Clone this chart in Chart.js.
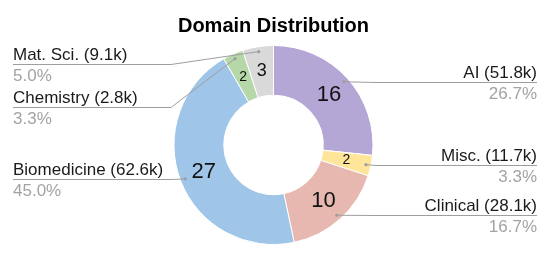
<!DOCTYPE html>
<html><head><meta charset="utf-8">
<script src="https://cdn.jsdelivr.net/npm/chart.js@4.4.1/dist/chart.umd.min.js"></script>
<style>html,body{margin:0;padding:0;background:#fff}canvas{display:block}</style>
</head><body>
<canvas id="c" width="547" height="258"></canvas>
<script>
/* donut: domain distribution */
const domains=['AI','Misc.','Clinical','Biomedicine','Chemistry','Mat. Sci.'];
const counts=[16,2,10,27,2,3];
const sizes=['51.8k','11.7k','28.1k','62.6k','2.8k','9.1k'];
const palette=['#b4a7d6','#ffe599','#e6b8af','#9fc5e8','#b6d7a8','#d9d9d9'];

const FONT='"Liberation Sans", Arial, sans-serif';
const total=counts.reduce((a,b)=>a+b,0);
const pct=v=>(v/total*100).toFixed(1)+'%';

/* numbers inside slices + leader lines with labels */
const callouts={id:'callouts',afterDatasetsDraw(chart){
  const ctx=chart.ctx, arcs=chart.getDatasetMeta(0).data;
  const left=[],right=[];
  arcs.forEach((a,i)=>{
    const p=a.getProps(['x','y','startAngle','endAngle','innerRadius','outerRadius'],true);
    const mid=(p.startAngle+p.endAngle)/2, R=p.outerRadius;
    const deg=(p.endAngle-p.startAngle)*180/Math.PI;
    const rm=(p.innerRadius+p.outerRadius)/2;
    // value in slice
    ctx.save();
    ctx.fillStyle='#111';ctx.textAlign='center';ctx.textBaseline='middle';
    ctx.font=Math.min(22,Math.max(14,deg))+'px '+FONT;
    ctx.fillText(counts[i],p.x+Math.cos(mid)*rm,p.y+Math.sin(mid)*rm);
    ctx.restore();
    const it={i,cx:p.x,R,ax:p.x+Math.cos(mid)*R*0.95,ay:p.y+Math.sin(mid)*R*0.95};
    (Math.cos(mid)>=0?right:left).push(it);
  });
  const minY=chart.chartArea.top+19, gap=43;
  for(const side of [left,right]){
    side.sort((a,b)=>a.ay-b.ay);
    let prev=-1e9;
    for(const it of side){it.ly=Math.max(it.ay,prev+gap,minY);prev=it.ly;}
  }
  ctx.save();
  ctx.strokeStyle='#9e9e9e';ctx.fillStyle='#9e9e9e';ctx.lineWidth=1;
  const L=13,Rx=537;
  for(const it of left){
    const y=Math.round(it.ly)+0.5, ex=Math.min(it.ax,it.cx-it.R-3);
    ctx.beginPath();ctx.moveTo(L,y);ctx.lineTo(ex,y);ctx.lineTo(it.ax,it.ay);ctx.stroke();
    ctx.beginPath();ctx.arc(it.ax,it.ay,1.6,0,Math.PI*2);ctx.fill();
  }
  for(const it of right){
    const y=Math.round(it.ly)+0.5, ex=Math.max(it.ax,it.cx+it.R+3);
    ctx.beginPath();ctx.moveTo(it.ax,it.ay);ctx.lineTo(ex,y);ctx.lineTo(Rx,y);ctx.stroke();
    ctx.beginPath();ctx.arc(it.ax,it.ay,1.6,0,Math.PI*2);ctx.fill();
  }
  ctx.font='17px '+FONT;ctx.textBaseline='alphabetic';
  for(const [side,align,x] of [[left,'left',L],[right,'right',Rx]]){
    ctx.textAlign=align;
    for(const it of side){
      ctx.fillStyle='#1a1a1a';
      ctx.fillText(domains[it.i]+' ('+sizes[it.i]+')',x,it.ly-4);
      ctx.fillStyle='#a3a3a3';
      ctx.fillText(pct(counts[it.i]),x,it.ly+17);
    }
  }
  ctx.restore();
}};

new Chart(document.getElementById('c'),{
  type:'doughnut',
  data:{labels:domains,datasets:[{data:counts,backgroundColor:palette,borderColor:'#fff',borderWidth:1}]},
  options:{responsive:false,animation:false,events:[],cutout:'50%',
    layout:{padding:{top:0,bottom:13,left:0,right:0}},
    plugins:{legend:{display:false},tooltip:{enabled:false},
      title:{display:true,text:'Domain Distribution',color:'#000',
        font:{family:FONT,size:20,weight:'bold'},padding:{top:14,bottom:7}}}},
  plugins:[callouts]
});
</script>
</body></html>
